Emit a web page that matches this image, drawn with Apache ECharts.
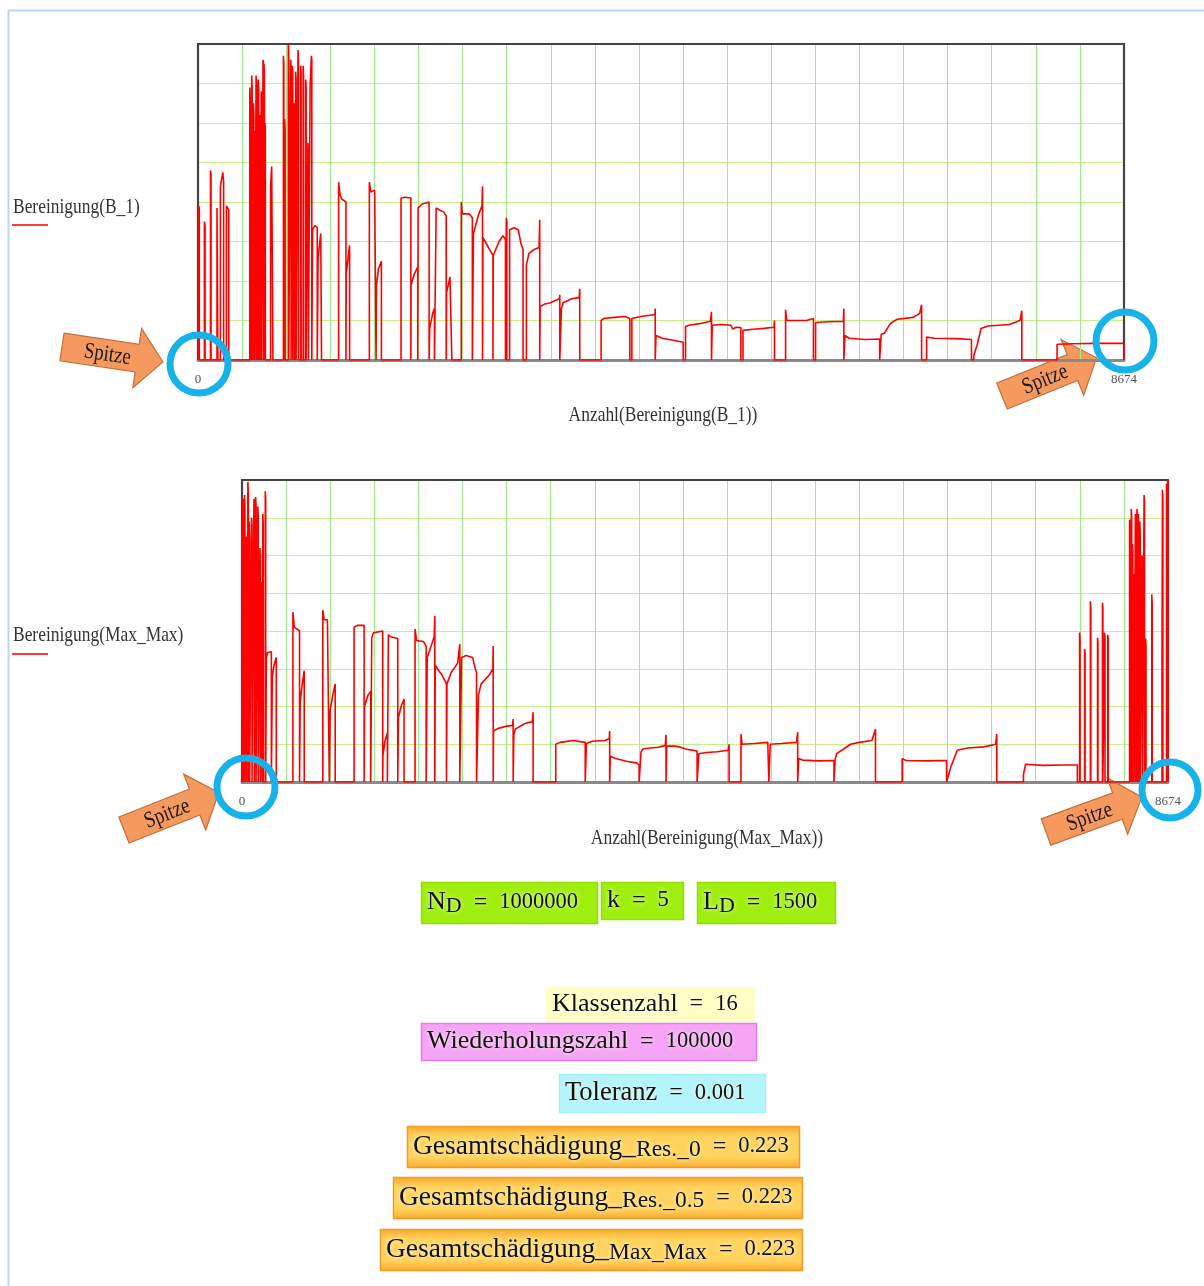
<!DOCTYPE html>
<html>
<head>
<meta charset="utf-8">
<script src="https://cdn.jsdelivr.net/npm/echarts@6.0.0/dist/echarts.min.js"></script>
<style>
html,body{margin:0;padding:0;background:#fff;}
#c{width:1204px;height:1286px;}
</style>
</head>
<body>
<div id="c"></div>
<script>
// ---------------- DATA ----------------
const X_MAX = 8674;
const Y_MAX = 8;
const xEndLabels = [0, 8674];

const seriesNames = ['Bereinigung(B_1)', 'Bereinigung(Max_Max)'];
const axisNames = ['Anzahl(Bereinigung(B_1))', 'Anzahl(Bereinigung(Max_Max))'];

// each pulse: the trace rises from 0 at the first x, follows the points, falls back to 0 at the last x
const pulsesB1 = [
  [[8,3.9],[12,3.8]],
  [[60,3.5],[66,3.4]],
  [[117,4.8],[122,4.7]],
  [[178,3.85],[186,3.8]],
  [[210,4.4],[232,4.75],[240,4.5]],
  [[266,3.9],[280,3.85],[288,3.8]],
  [[485,6.9],[489,6.5]],
  [[494,5.9],[498,5.5]],
  [[503,7.2],[507,6.9]],
  [[511,6.0],[515,5.8]],
  [[519,6.5],[523,6.2]],
  [[528,5.8],[532,5.5]],
  [[544,7.2],[548,7.0]],
  [[554,7.0],[558,6.8]],
  [[564,7.1],[568,6.9]],
  [[579,6.2],[583,6.0]],
  [[592,6.8],[596,6.6]],
  [[609,7.6],[614,7.5]],
  [[618,7.5],[622,7.2]],
  [[628,6.0],[631,5.8]],
  [[680,4.4],[690,4.9],[702,4.9]],
  [[800,7.7],[804,7.5]],
  [[812,6.1],[816,5.8]],
  [[846,8.0],[850,7.8]],
  [[868,7.6],[872,7.4]],
  [[884,7.45],[888,7.3]],
  [[900,6.5],[904,6.3]],
  [[915,7.3],[919,7.1]],
  [[937,7.85],[941,7.6]],
  [[962,7.45],[966,7.2]],
  [[985,7.45],[989,7.2]],
  [[1009,7.1],[1013,6.9]],
  [[1030,5.5],[1034,5.3]],
  [[1050,6.9],[1056,7.3],[1062,7.7],[1066,7.6]],
  [[1073,3.3],[1095,3.4],[1117,3.35]],
  [[1125,2.6],[1150,3.2],[1157,3.25]],
  [[1317,4.5],[1330,4.2],[1345,4.08],[1386,4.0]],
  [[1389,2.2],[1420,2.9]],
  [[1605,4.5],[1620,4.25],[1655,4.3],[1668,4.25]],
  [[1672,1.9],[1690,2.3],[1718,2.5]],
  [[1902,4.1],[1920,4.05],[1940,4.12],[1994,4.1]],
  [[1996,1.9],[2030,2.2],[2058,2.35]],
  [[2062,3.85],[2100,3.95],[2165,4.0]],
  [[2170,0.8],[2200,1.2],[2215,1.3]],
  [[2231,3.85],[2260,3.8],[2300,3.75],[2325,3.65]],
  [[2328,1.7],[2360,2.1],[2378,2.15]],
  [[2466,4.0],[2475,3.7],[2540,3.7],[2570,3.6]],
  [[2580,3.2],[2630,3.7],[2660,3.9],[2665,4.4]],
  [[2669,3.1],[2690,3.0],[2730,2.8],[2763,2.65]],
  [[2766,2.65],[2820,3.0],[2857,3.15],[2880,3.05]],
  [[2888,3.6],[2893,3.5]],
  [[2919,3.3],[2960,3.35],[3000,3.3],[3025,2.95],[3045,2.8]],
  [[3076,2.4],[3100,2.7],[3150,2.8],[3195,2.85],[3201,3.55]],
  [[3205,1.35],[3250,1.42],[3300,1.45],[3385,1.55],[3389,1.65]],
  [[3404,1.3],[3420,1.45],[3500,1.55],[3570,1.58],[3576,1.8]],
  [[3776,1.0],[3800,1.05],[3900,1.08],[4000,1.1],[4045,1.05]],
  [[4064,1.05],[4150,1.1],[4280,1.15],[4283,1.3]],
  [[4290,0.62],[4350,0.55],[4450,0.5],[4545,0.45]],
  [[4567,0.85],[4600,0.88],[4700,0.92],[4800,0.98],[4810,1.22]],
  [[4817,0.88],[4900,0.9],[4990,0.88],[5010,0.78],[5040,0.83],[5085,0.82]],
  [[5105,0.75],[5200,0.78],[5300,0.8],[5395,0.83],[5400,1.0]],
  [[5504,1.27],[5515,1.0],[5700,1.0],[5765,1.05]],
  [[5785,0.95],[5900,0.97],[6045,0.98],[6050,1.3]],
  [[6060,0.62],[6100,0.55],[6250,0.52],[6385,0.53]],
  [[6400,0.65],[6430,0.68],[6480,0.9],[6510,0.97],[6550,1.03],[6700,1.08],[6760,1.18],[6778,1.4]],
  [[6825,0.58],[6900,0.55],[7100,0.54],[7245,0.52]],
  [[7266,0.1],[7300,0.4],[7335,0.8],[7400,0.86],[7600,0.9],[7700,1.0],[7717,1.25]],
  [[8047,0.4],[8200,0.41],[8400,0.42],[8674,0.42]]
];

const pulsesMaxMax = [
  [[2,7.5],[6,7.2]],
  [[12,7.5],[16,7.0]],
  [[24,7.6],[28,7.3]],
  [[40,6.5],[44,6.2]],
  [[55,7.95],[60,7.6]],
  [[68,6.9],[72,6.5]],
  [[90,7.0],[94,6.8]],
  [[112,7.5],[116,7.2]],
  [[128,7.55],[132,7.3]],
  [[148,7.3],[152,7.0]],
  [[168,6.2],[172,6.0]],
  [[185,5.3],[189,5.0]],
  [[195,7.1],[199,6.8]],
  [[218,7.7],[222,7.5]],
  [[228,3.3],[240,3.43],[275,3.45]],
  [[284,2.8],[300,3.1],[321,3.3]],
  [[477,4.5],[490,4.1],[539,4.0]],
  [[545,2.1],[560,2.5],[583,2.95]],
  [[757,4.55],[770,4.3],[800,4.3],[818,4.25]],
  [[826,1.9],[850,2.3],[873,2.6]],
  [[1050,4.1],[1080,4.15],[1144,4.15]],
  [[1147,2.0],[1180,2.3],[1206,2.4]],
  [[1215,3.8],[1230,3.95],[1318,4.0]],
  [[1320,0.7],[1340,1.1],[1362,1.3]],
  [[1371,3.9],[1390,3.85],[1459,3.8]],
  [[1465,1.7],[1490,2.0],[1518,2.2]],
  [[1621,4.05],[1635,3.75],[1700,3.72],[1725,3.6]],
  [[1735,3.3],[1760,3.5],[1800,3.85],[1806,4.4]],
  [[1810,3.1],[1830,3.0],[1870,2.85],[1915,2.6]],
  [[1920,2.6],[1960,2.9],[2020,3.15],[2040,3.65]],
  [[2057,3.3],[2100,3.35],[2160,3.3],[2185,3.0],[2197,2.9]],
  [[2215,2.3],[2240,2.6],[2320,2.85],[2350,3.0],[2353,3.6]],
  [[2356,1.35],[2400,1.42],[2480,1.48],[2535,1.5],[2540,1.67]],
  [[2546,1.25],[2560,1.4],[2650,1.55],[2720,1.6],[2727,1.85]],
  [[2939,1.0],[2980,1.05],[3100,1.1],[3215,1.05]],
  [[3226,1.02],[3280,1.08],[3400,1.1],[3440,1.15],[3444,1.35]],
  [[3450,0.68],[3500,0.62],[3600,0.55],[3700,0.5],[3720,0.45]],
  [[3738,0.8],[3760,0.88],[3900,0.92],[3965,0.97],[3972,1.25]],
  [[3978,0.95],[4050,0.95],[4100,0.93],[4150,0.88],[4200,0.85],[4263,0.82]],
  [[4279,0.75],[4350,0.78],[4450,0.8],[4555,0.84],[4563,1.0]],
  [[4674,1.27],[4685,1.0],[4800,1.02],[4925,1.05],[4935,1.08]],
  [[4948,1.0],[5050,1.02],[5195,1.05],[5205,1.32]],
  [[5215,0.62],[5250,0.58],[5400,0.56],[5545,0.57]],
  [[5556,0.6],[5570,0.75],[5650,0.9],[5700,1.0],[5780,1.05],[5900,1.1],[5934,1.4]],
  [[6184,0.62],[6220,0.57],[6400,0.56],[6600,0.57]],
  [[6612,0.05],[6640,0.4],[6700,0.84],[6800,0.9],[6950,0.93],[7060,1.0],[7070,1.27]],
  [[7320,0.2],[7340,0.47],[7500,0.44],[7700,0.45],[7825,0.45]],
  [[7846,3.96],[7850,3.8]],
  [[7893,3.52],[7897,3.4]],
  [[7947,4.79],[7951,4.6]],
  [[8014,3.82],[8018,3.7]],
  [[8060,4.75],[8064,4.6]],
  [[8080,3.96],[8084,3.8]],
  [[8110,3.9],[8114,3.8]],
  [[8314,6.95],[8318,6.6]],
  [[8322,6.0],[8326,5.8]],
  [[8330,7.23],[8334,7.0]],
  [[8340,6.3],[8344,6.1]],
  [[8352,5.5],[8356,5.2]],
  [[8368,7.1],[8372,6.9]],
  [[8383,7.23],[8387,7.0]],
  [[8396,7.1],[8400,6.8]],
  [[8410,6.9],[8414,6.5]],
  [[8430,6.0],[8434,5.7]],
  [[8450,7.6],[8454,7.4]],
  [[8464,3.8],[8468,3.6]],
  [[8522,4.97],[8526,4.7]],
  [[8618,3.3],[8622,7.74],[8626,7.5]],
  [[8660,7.9],[8666,7.6],[8672,8.0],[8674,8.0]]
];

// parameter boxes below the charts
const paramNames = ['N', 'k', 'L', 'Klassenzahl', 'Wiederholungszahl', 'Toleranz',
  'Gesamtschädigung_', 'Gesamtschädigung_', 'Gesamtschädigung_'];
const paramSubs = ['D', '', 'D', '', '', '', 'Res._0', 'Res._0.5', 'Max_Max'];
const paramValues = ['1000000', '5', '1500', '16', '100000', '0.001', '0.223', '0.223', '0.223'];

// ---------------- BUILD ----------------
function buildLine(pulses) {
  const d = [[0, 0]];
  pulses.forEach(p => {
    d.push([p[0][0], 0]);
    p.forEach(q => d.push(q));
    d.push([p[p.length - 1][0], 0]);
  });
  d.push([X_MAX, 0]);
  return d;
}

const FONT = 'Liberation Serif, "Times New Roman", serif';

function xAxisCfg(gi) {
  return {
    type: 'value', gridIndex: gi, min: 0, max: X_MAX, interval: X_MAX / 21,
    axisLine: { show: true, onZero: false, lineStyle: { color: '#8a8a8a', width: 3 } },
    axisTick: { show: false },
    axisLabel: {
      show: true, margin: 13, fontFamily: FONT, fontSize: 13, color: '#555',
      showMinLabel: true, showMaxLabel: true,
      formatter: v => (v === xEndLabels[0] || v === xEndLabels[1]) ? String(v) : ''
    },
    splitLine: { show: true, lineStyle: { color: '#9fea8c', width: 1 } }
  };
}
function yAxisCfg(gi) {
  return {
    type: 'value', gridIndex: gi, min: 0, max: Y_MAX, interval: 1,
    axisLine: { show: false }, axisTick: { show: false }, axisLabel: { show: false },
    splitLine: { show: true, lineStyle: { color: '#c4f08e', width: 1.2 } }
  };
}

function arrow(tx, ty, deg) {
  return {
    type: 'group', x: tx, y: ty, rotation: deg * Math.PI / 180, z: 100,
    children: [
      { type: 'polygon', shape: { points: [[0,-14],[76,-14],[76,-30],[102,0],[76,30],[76,14],[0,14]] },
        style: { fill: '#f5995f', stroke: '#c0703a', lineWidth: 1.2 } },
      { type: 'text', x: 46, y: 1, scaleX: 0.82,
        style: { text: 'Spitze', fontFamily: FONT, fontSize: 23, fill: '#1a1a1a', align: 'center', verticalAlign: 'middle' } }
    ]
  };
}
function ring(cx, cy, r) {
  return { type: 'circle', z: 110, shape: { cx: cx, cy: cy, r: r },
    style: { fill: null, stroke: '#17b2ea', lineWidth: 7 } };
}
function frame(x, y, w, h) {
  return { type: 'polyline', z: 4, silent: true,
    shape: { points: [[x + w, y + h], [x + w, y], [x, y], [x, y + h]] },
    style: { fill: null, stroke: '#444', lineWidth: 2.2 } };
}
function condensedText(x, y, txt, align) {
  return { type: 'text', x: x, y: y, scaleX: 0.83, z: 50,
    style: { text: txt, fontFamily: FONT, fontSize: 21, fill: '#333', align: align, verticalAlign: 'middle' } };
}

const boxLayout = [
  [421, 882, 176, 41, 'lime', 26],
  [601, 882, 82, 37, 'lime', 26],
  [697, 882, 138, 41, 'lime', 26],
  [546, 987, 208, 34, 'yellow', 26],
  [421, 1023, 335, 37, 'pink', 26],
  [559, 1074, 206, 38, 'cyan', 26.5],
  [407, 1126, 392, 41, 'orange', 27.5],
  [393, 1177, 409, 41, 'orange', 27.5],
  [380, 1229, 422, 41, 'orange', 27.5]
];
const boxStyles = {
  lime: { fill: '#a0ee10', stroke: '#8fe200' },
  yellow: { fill: '#ffffc6', stroke: '#ffffc6' },
  pink: { fill: '#f6a4f6', stroke: '#e57ee5' },
  cyan: { fill: '#b4f4fb', stroke: '#a2eff8' },
  orange: {
    fill: new echarts.graphic.LinearGradient(0, 0, 0, 1, [
      { offset: 0, color: '#f9a92c' }, { offset: 0.25, color: '#ffd35e' },
      { offset: 0.75, color: '#ffd35e' }, { offset: 1, color: '#f9a92c' }]),
    stroke: '#f29d22'
  }
};
const glow = { textShadowColor: 'rgba(255,255,235,1)', textShadowBlur: 4 };
function paramBox(i) {
  const b = boxLayout[i];
  const st = boxStyles[b[4]];
  const fs = b[5];
  const sub = paramSubs[i] ? '{s|' + paramSubs[i] + '}' : '';
  return {
    type: 'group', z: 60,
    children: [
      { type: 'rect', shape: { x: b[0] + 0.5, y: b[1] + 0.5, width: b[2], height: b[3] },
        style: { fill: st.fill, stroke: st.stroke, lineWidth: 1.5 } },
      { type: 'text', x: b[0] + 6, y: b[1] + b[3] / 2,
        style: {
          text: '{m|' + paramNames[i] + '}' + sub + '{e|=}{v|' + paramValues[i] + '}',
          align: 'left', verticalAlign: 'middle',
          rich: {
            m: Object.assign({ fontFamily: FONT, fontSize: fs, lineHeight: 30, fill: '#111', verticalAlign: 'middle' }, glow),
            s: Object.assign({ fontFamily: FONT, fontSize: fs - 4, lineHeight: 22, fill: '#111', verticalAlign: 'bottom' }, glow),
            e: Object.assign({ fontFamily: FONT, fontSize: 24, lineHeight: 30, fill: '#111', padding: [0, 12, 0, 12], verticalAlign: 'middle' }, glow),
            v: Object.assign({ fontFamily: FONT, fontSize: 22.5, lineHeight: 30, fill: '#111', verticalAlign: 'middle' }, glow)
          }
        } }
    ]
  };
}

const graphics = [
  // page frame (light blue)
  { type: 'polyline', z: 1, shape: { points: [[8.5, 1286], [8.5, 10.5], [1204, 10.5]] },
    style: { stroke: '#bdd6ee', lineWidth: 2, fill: null } },
  // plot frames
  frame(198, 44, 926, 316),
  frame(242, 480, 926, 302),
  // y-axis labels with legend stroke
  condensedText(13, 207, seriesNames[0], 'left'),
  { type: 'rect', z: 50, shape: { x: 12, y: 224, width: 36, height: 2 }, style: { fill: '#ff3b3b' } },
  condensedText(13, 635, seriesNames[1], 'left'),
  { type: 'rect', z: 50, shape: { x: 12, y: 653, width: 36, height: 2 }, style: { fill: '#ff3b3b' } },
  // x-axis names
  condensedText(663, 415, axisNames[0], 'center'),
  condensedText(707, 838, axisNames[1], 'center'),
  // annotations
  arrow(62, 347, -8.4),
  arrow(1002, 396, 22),
  arrow(124, 830, 21.6),
  arrow(1046, 832, 20),
  ring(199, 364, 29),
  ring(1125, 341, 29),
  ring(246, 787, 29),
  ring(1170, 790, 28)
];
for (let i = 0; i < boxLayout.length; i++) graphics.push(paramBox(i));

const chart = echarts.init(document.getElementById('c'), null, { renderer: 'canvas' });
chart.setOption({
  animation: false,
  backgroundColor: '#ffffff',
  grid: [
    { left: 198, top: 44, width: 926, height: 316, show: true, borderColor: '#444', borderWidth: 0, backgroundColor: '#fff', containLabel: false },
    { left: 242, top: 480, width: 926, height: 302, show: true, borderColor: '#444', borderWidth: 0, backgroundColor: '#fff', containLabel: false }
  ],
  xAxis: [xAxisCfg(0), xAxisCfg(1)],
  yAxis: [yAxisCfg(0), yAxisCfg(1)],
  series: [
    { name: seriesNames[0], type: 'line', xAxisIndex: 0, yAxisIndex: 0, data: buildLine(pulsesB1),
      showSymbol: false, symbol: 'none', sampling: null, lineStyle: { color: '#ff0000', width: 1.6 }, z: 5 },
    { name: seriesNames[1], type: 'line', xAxisIndex: 1, yAxisIndex: 1, data: buildLine(pulsesMaxMax),
      showSymbol: false, symbol: 'none', sampling: null, lineStyle: { color: '#ff0000', width: 1.6 }, z: 5 }
  ],
  graphic: graphics
});
</script>
</body>
</html>
